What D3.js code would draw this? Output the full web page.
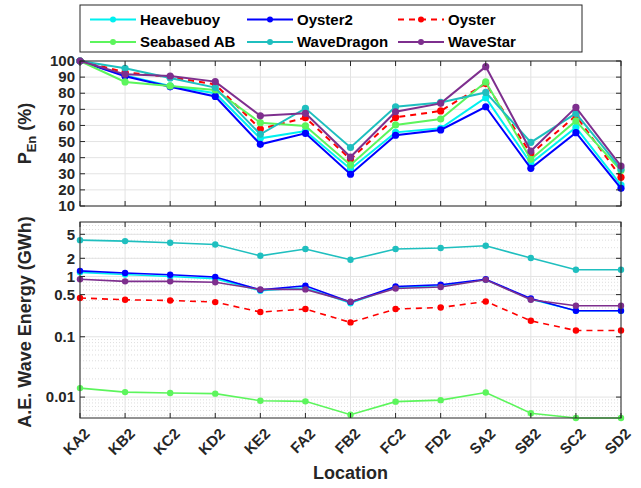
<!DOCTYPE html>
<html>
<head>
<meta charset="utf-8">
<script src="https://cdn.jsdelivr.net/npm/d3@7"></script>
<style>
  body { margin: 0; background: #fff; }
  svg { font-family: "Liberation Sans", Arial, sans-serif; font-weight: bold; }
</style>
</head>
<body>
<script>
// locations along x
const locations = ['KA2', 'KB2', 'KC2', 'KD2', 'KE2', 'FA2', 'FB2', 'FC2', 'FD2', 'SA2', 'SB2', 'SC2', 'SD2'];

// P_En (%) per device
const penHeavebuoy = [100, 91, 84.5, 80, 52, 56.5, 33, 55.7, 58.2, 77.2, 36.5, 58.8, 23];
const penOyster2 = [100, 90.5, 84, 78, 48.3, 55.1, 29.7, 53.9, 57.2, 71.6, 33.4, 55.5, 21];
const penOyster = [100, 93, 90, 85.5, 57.8, 64.8, 39, 65, 69, 86, 42.3, 66, 27.8];
const penSeabased = [100, 87, 84.5, 82, 61.7, 59.7, 35.5, 60.3, 64, 87, 39, 62.8, 32];
const penWaveDragon = [100, 95.5, 89.5, 83.5, 54.5, 70.6, 46.3, 71.6, 74.3, 80.5, 49.5, 67.5, 33];
const penWaveStar = [100, 91.7, 90.7, 87.2, 66, 67.5, 40.4, 68.5, 73.7, 96.5, 44.1, 71.2, 34.8];

// annual wave energy (GWh) per device
const aeHeavebuoy = [1.17, 1.08, 1.0, 0.92, 0.58, 0.65, 0.36, 0.66, 0.7, 0.88, 0.42, 0.27, 0.27];
const aeOyster2 = [1.24, 1.14, 1.07, 0.98, 0.6, 0.7, 0.376, 0.68, 0.73, 0.9, 0.43, 0.27, 0.27];
const aeOyster = [0.44, 0.41, 0.4, 0.376, 0.257, 0.288, 0.173, 0.288, 0.306, 0.385, 0.184, 0.127, 0.127];
const aeSeabased = [0.0141, 0.0121, 0.0117, 0.0114, 0.0087, 0.0085, 0.0051, 0.0084, 0.0089, 0.0119, 0.0054, 0.0045, 0.0045];
const aeWaveDragon = [4.0, 3.86, 3.62, 3.38, 2.2, 2.85, 1.89, 2.85, 2.96, 3.23, 2.02, 1.29, 1.29];
const aeWaveStar = [0.9, 0.83, 0.83, 0.8, 0.61, 0.61, 0.38, 0.63, 0.67, 0.88, 0.41, 0.327, 0.327];

// tick values
const penTicks = [10, 20, 30, 40, 50, 60, 70, 80, 90, 100];
const aeTicks = [0.01, 0.1, 0.5, 1, 2, 5];

const series = [
  { name: 'Heavebuoy', color: '#00f0f0', dash: null, pen: penHeavebuoy, ae: aeHeavebuoy },
  { name: 'Oyster2', color: '#0000ff', dash: null, pen: penOyster2, ae: aeOyster2 },
  { name: 'Oyster', color: '#ff0000', dash: '6,5', pen: penOyster, ae: aeOyster },
  { name: 'Seabased AB', color: '#5cf55c', dash: null, pen: penSeabased, ae: aeSeabased },
  { name: 'WaveDragon', color: '#1fbfbf', dash: null, pen: penWaveDragon, ae: aeWaveDragon },
  { name: 'WaveStar', color: '#7e2f8e', dash: null, pen: penWaveStar, ae: aeWaveStar },
];

const width = 641;
const height = 488;
const left = 80;
const right = 621;
const top1 = 61, bottom1 = 206;
const top2 = 222, bottom2 = 418;
const axisColor = '#262626';
const gridColor = '#e3e3e3';

const svg = d3.select('body').append('svg')
  .attr('width', width)
  .attr('height', height);

const x = d3.scalePoint().domain(locations).range([left, right]);
const yPen = d3.scaleLinear().domain([10, 100]).range([bottom1, top1]);
const yAe = d3.scaleLog().domain([0.0045, 8]).range([bottom2, top2]);

// draws grid, lines, markers and box for one panel
const panel = (yScale, ticks, minorTicks, key, top, bottom, lw, r, fmt) => {
  const g = svg.append('g');

  // minor grid (log panel only)
  g.selectAll('.minor')
    .data(minorTicks)
    .join('line')
    .attr('x1', left).attr('x2', right)
    .attr('y1', (d) => yScale(d)).attr('y2', (d) => yScale(d))
    .attr('stroke', '#d4d4d4')
    .attr('stroke-width', 0.8)
    .attr('stroke-dasharray', '1,2');

  // major grid
  g.selectAll('.hgrid')
    .data(ticks)
    .join('line')
    .attr('x1', left).attr('x2', right)
    .attr('y1', (d) => yScale(d)).attr('y2', (d) => yScale(d))
    .attr('stroke', gridColor);

  g.selectAll('.vgrid')
    .data(locations)
    .join('line')
    .attr('x1', (d) => x(d)).attr('x2', (d) => x(d))
    .attr('y1', top).attr('y2', bottom)
    .attr('stroke', gridColor);

  // series
  const line = d3.line()
    .x((d, i) => x(locations[i]))
    .y((d) => yScale(d));

  series.forEach((s) => {
    g.append('path')
      .attr('d', line(s[key]))
      .attr('fill', 'none')
      .attr('stroke', s.color)
      .attr('stroke-width', lw)
      .attr('stroke-dasharray', s.dash);
    g.selectAll(null)
      .data(s[key])
      .join('circle')
      .attr('cx', (d, i) => x(locations[i]))
      .attr('cy', (d) => yScale(d))
      .attr('r', r)
      .attr('fill', s.color);
  });

  // box
  g.append('rect')
    .attr('x', left).attr('y', top)
    .attr('width', right - left).attr('height', bottom - top)
    .attr('fill', 'none')
    .attr('stroke', axisColor);

  // inner ticks on four sides
  const tl = 5;
  g.selectAll('.xt')
    .data(locations)
    .join('path')
    .attr('d', (d) => `M${x(d)},${bottom}v${-tl}M${x(d)},${top}v${tl}`)
    .attr('stroke', axisColor);
  g.selectAll('.yt')
    .data(ticks)
    .join('path')
    .attr('d', (d) => `M${left},${yScale(d)}h${tl}M${right},${yScale(d)}h${-tl}`)
    .attr('stroke', axisColor);

  // y tick labels
  g.selectAll('.yl')
    .data(ticks)
    .join('text')
    .attr('x', left - 5)
    .attr('y', (d) => yScale(d))
    .attr('dy', '0.35em')
    .attr('text-anchor', 'end')
    .attr('font-size', 15)
    .attr('fill', axisColor)
    .text(fmt);
};

panel(yPen, penTicks, [], 'pen', top1, bottom1, 2, 3.6, (d) => d);

const minor = [];
[0.001, 0.01, 0.1, 1].forEach((dec) => {
  for (let k = 2; k <= 9; k += 1) {
    const v = k * dec;
    if (v > 0.0045 && v < 8) minor.push(v);
  }
});
panel(yAe, aeTicks, minor, 'ae', top2, bottom2, 1.6, 3.2, (d) => d);

// x tick labels
svg.selectAll('.xl')
  .data(locations)
  .join('text')
  .attr('transform', (d) => `translate(${x(d) + 7},${bottom2 + 13}) rotate(-45)`)
  .attr('text-anchor', 'end')
  .attr('dy', '0.35em')
  .attr('font-size', 15)
  .attr('fill', axisColor)
  .text((d) => d);

// axis titles
const penLabel = svg.append('text')
  .attr('transform', `translate(31,${(top1 + bottom1) / 2}) rotate(-90)`)
  .attr('text-anchor', 'middle')
  .attr('font-size', 18)
  .attr('fill', axisColor);
penLabel.append('tspan').text('P');
penLabel.append('tspan').attr('font-size', 13).attr('dy', 5).text('En');
penLabel.append('tspan').attr('dy', -5).text('  (%)');

svg.append('text')
  .attr('transform', `translate(31,${(top2 + bottom2) / 2 + 2}) rotate(-90)`)
  .attr('text-anchor', 'middle')
  .attr('font-size', 18)
  .attr('fill', axisColor)
  .text('A.E. Wave Energy (GWh)');

svg.append('text')
  .attr('x', (left + right) / 2)
  .attr('y', 479)
  .attr('text-anchor', 'middle')
  .attr('font-size', 18)
  .attr('fill', axisColor)
  .text('Location');

// legend
const legend = svg.append('g');
legend.append('rect')
  .attr('x', 80).attr('y', 5)
  .attr('width', 502).attr('height', 47)
  .attr('fill', '#fff')
  .attr('stroke', axisColor);

const colX = [90, 247, 398];
const rowY = [19.5, 42];
series.forEach((s, i) => {
  const cx = colX[i % 3];
  const cy = rowY[Math.floor(i / 3)];
  legend.append('line')
    .attr('x1', cx).attr('x2', cx + 46)
    .attr('y1', cy).attr('y2', cy)
    .attr('stroke', s.color)
    .attr('stroke-width', 2)
    .attr('stroke-dasharray', s.dash);
  legend.append('circle')
    .attr('cx', cx + 23).attr('cy', cy)
    .attr('r', 3)
    .attr('fill', s.color);
  legend.append('text')
    .attr('x', cx + 50).attr('y', cy)
    .attr('dy', '0.35em')
    .attr('font-size', 15)
    .attr('fill', '#000')
    .text(s.name);
});
</script>
</body>
</html>
